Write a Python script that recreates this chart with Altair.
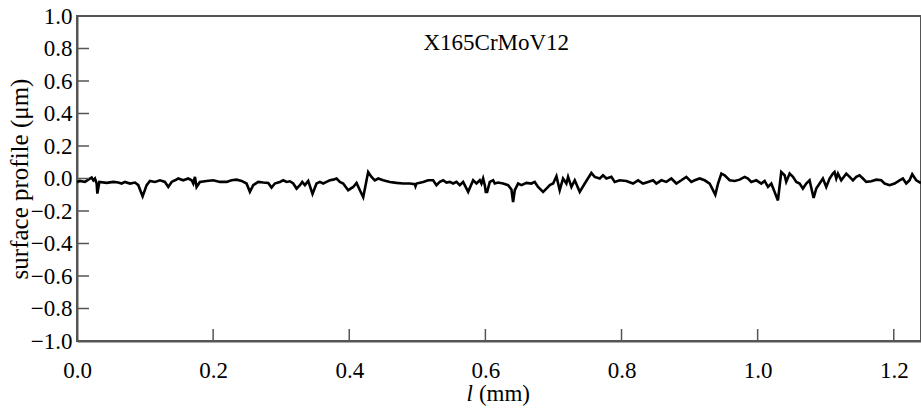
import altair as alt
import pandas as pd

# ---- data ----
l_mm = [
    0.0, 0.0044, 0.0117, 0.0166, 0.0215, 0.024, 0.0264, 0.0289, 0.0299, 0.0328,
    0.0436, 0.0534, 0.0607, 0.0656, 0.0705, 0.0778, 0.0852, 0.0901, 0.0964, 0.1023,
    0.1072, 0.1145, 0.1219, 0.1292, 0.1341, 0.139, 0.1439, 0.1488, 0.1561, 0.1635,
    0.1684, 0.1708, 0.1733, 0.1757, 0.1806, 0.1904, 0.2002, 0.21, 0.2198, 0.2271,
    0.2345, 0.2418, 0.2491, 0.254, 0.2589, 0.2663, 0.2736, 0.281, 0.2858, 0.2907,
    0.2932, 0.2981, 0.303, 0.3079, 0.3128, 0.3177, 0.3226, 0.3275, 0.3309, 0.3348,
    0.3397, 0.346, 0.3519, 0.3568, 0.3617, 0.3666, 0.3715, 0.3764, 0.3813, 0.3862,
    0.3911, 0.3984, 0.4058, 0.4107, 0.4156, 0.4205, 0.4254, 0.4278, 0.4327, 0.4376,
    0.4425, 0.4498, 0.4596, 0.4694, 0.4792, 0.489, 0.4963, 0.4973, 0.4988, 0.5086,
    0.5159, 0.5232, 0.5281, 0.533, 0.5379, 0.5428, 0.5477, 0.5526, 0.5575, 0.5624,
    0.5673, 0.5747, 0.582, 0.5869, 0.5918, 0.5942, 0.5967, 0.5991, 0.6006, 0.6026,
    0.6065, 0.6114, 0.6138, 0.6187, 0.6261, 0.6334, 0.6383, 0.6407, 0.6432, 0.6481,
    0.653, 0.6603, 0.6676, 0.6725, 0.6774, 0.6848, 0.6897, 0.6946, 0.6995, 0.7044,
    0.7092, 0.7141, 0.719, 0.7215, 0.7264, 0.7313, 0.7386, 0.746, 0.7557, 0.7606,
    0.768, 0.7729, 0.7778, 0.7851, 0.79, 0.7973, 0.8071, 0.8169, 0.8243, 0.8316,
    0.839, 0.8463, 0.8512, 0.8586, 0.8659, 0.8732, 0.8806, 0.8879, 0.8952, 0.9026,
    0.9075, 0.9148, 0.9222, 0.9295, 0.9344, 0.9378, 0.9418, 0.9467, 0.9515, 0.9589,
    0.9662, 0.9736, 0.9809, 0.9858, 0.9907, 0.998, 1.0054, 1.0103, 1.0152, 1.0201,
    1.0298, 1.0347, 1.0396, 1.042, 1.047, 1.0519, 1.0568, 1.0617, 1.0665, 1.0714,
    1.0763, 1.0822, 1.0861, 1.091, 1.0959, 1.1008, 1.1057, 1.1106, 1.113, 1.1155,
    1.118, 1.1228, 1.1302, 1.1351, 1.14, 1.1449, 1.1498, 1.1547, 1.1596, 1.1669,
    1.1743, 1.1816, 1.1865, 1.1938, 1.2012, 1.2085, 1.2134, 1.2183, 1.2232, 1.2271,
    1.233, 1.24,
]
profile_um = [
    -0.021, -0.015, -0.021, -0.007, 0.006, -0.011, 0.000, -0.031, -0.093, -0.021,
    -0.027, -0.021, -0.025, -0.031, -0.021, -0.031, -0.025, -0.041, -0.110, -0.041,
    -0.015, -0.021, -0.011, -0.021, -0.052, -0.021, -0.011, 0.000, -0.011, 0.000,
    -0.011, -0.031, 0.010, -0.052, -0.021, -0.015, -0.011, -0.021, -0.021, -0.011,
    -0.007, -0.015, -0.031, -0.082, -0.041, -0.021, -0.025, -0.027, -0.056, -0.031,
    -0.027, -0.021, -0.011, -0.021, -0.017, -0.031, -0.062, -0.041, -0.021, -0.041,
    -0.015, -0.095, -0.031, -0.021, -0.031, -0.021, -0.011, -0.007, 0.000, -0.021,
    -0.031, -0.072, -0.052, -0.027, -0.072, -0.115, -0.011, 0.040, 0.010, -0.011,
    0.000, -0.011, -0.021, -0.027, -0.031, -0.031, -0.035, -0.048, -0.031, -0.021,
    -0.011, -0.011, -0.041, -0.021, -0.011, -0.025, -0.021, -0.031, -0.021, -0.041,
    -0.021, -0.082, -0.011, -0.031, -0.011, -0.031, 0.000, -0.041, -0.082, -0.082,
    -0.021, -0.011, -0.031, -0.025, -0.031, -0.041, -0.068, -0.145, -0.072, -0.031,
    -0.041, -0.027, -0.031, -0.021, -0.052, -0.082, -0.062, -0.041, -0.031, 0.014,
    -0.072, 0.000, -0.031, 0.010, -0.052, -0.011, -0.082, -0.031, 0.034, 0.010,
    0.000, 0.020, 0.000, 0.010, -0.021, -0.011, -0.015, -0.031, -0.011, -0.031,
    -0.021, -0.011, -0.031, -0.011, -0.021, 0.000, -0.031, -0.011, 0.010, -0.021,
    -0.011, 0.000, -0.011, -0.031, -0.072, -0.100, -0.031, 0.030, 0.020, -0.011,
    -0.015, -0.007, 0.010, 0.000, -0.021, -0.011, -0.031, -0.015, -0.052, -0.031,
    -0.135, 0.040, 0.020, -0.021, 0.030, 0.010, -0.021, -0.031, -0.062, -0.031,
    -0.011, -0.120, -0.062, -0.031, 0.000, -0.052, 0.000, 0.030, 0.040, 0.000,
    0.030, -0.011, 0.030, 0.010, -0.011, 0.010, 0.020, 0.000, -0.021, -0.017,
    -0.007, -0.011, -0.031, -0.041, -0.031, -0.011, 0.000, -0.031, -0.011, 0.026,
    -0.011, -0.028,
]

x_label_values = [0.0, 0.2, 0.4, 0.6, 0.8, 1.0, 1.2]
y_label_values = [-1.0, -0.8, -0.6, -0.4, -0.2, 0.0, 0.2, 0.4, 0.6, 0.8, 1.0]
x_tick_values = [0.2, 0.4, 0.6, 0.8, 1.0, 1.2]
y_tick_values = [-0.8, -0.6, -0.4, -0.2, 0.0, 0.2, 0.4, 0.6, 0.8]

X_DOMAIN = [0.0, 1.24]
Y_DOMAIN = [-1.0, 1.0]

W, H = 844, 325
FONT = "Liberation Serif"
FS = 23
GRAY = "#555555"

# inward tick lengths (12 px) expressed in data units
X_TICK_LEN = 12 / H * (Y_DOMAIN[1] - Y_DOMAIN[0])
Y_TICK_LEN = 12 / W * (X_DOMAIN[1] - X_DOMAIN[0])

df = pd.DataFrame({"l": l_mm, "p": profile_um, "i": list(range(len(l_mm)))})

xs = alt.Scale(domain=X_DOMAIN, nice=False, zero=False)
ys = alt.Scale(domain=Y_DOMAIN, nice=False, zero=False)

x_axis = alt.Axis(
    values=x_label_values, format=".1f", title=None, ticks=False, tickSize=0,
    labelPadding=18, labelFlush=False, labelOverlap=False,
    labelFont=FONT, labelFontSize=FS, labelColor="black")
y_axis = alt.Axis(
    values=y_label_values, format=".1f", title="surface profile (μm)",
    ticks=False, tickSize=0, labelPadding=5, labelOverlap=False,
    labelFont=FONT, labelFontSize=FS, labelColor="black",
    titleFont=FONT, titleColor="black", titleFontWeight="normal",
    titleX=-58, titleY=H / 2, titleAngle=-90, titleBaseline="middle",
    titleAlign="center", titleFontSize=25, labelFlush=False)

line = alt.Chart(df).mark_line(color="black", strokeWidth=2.6, clip=True).encode(
    x=alt.X("l:Q", scale=xs, axis=x_axis),
    y=alt.Y("p:Q", scale=ys, axis=y_axis),
    order="i:Q",
)

xt = pd.DataFrame({"v": x_tick_values, "y0": [Y_DOMAIN[0]] * len(x_tick_values),
                   "y1": [Y_DOMAIN[0] + X_TICK_LEN] * len(x_tick_values)})
x_ticks = alt.Chart(xt).mark_rule(color=GRAY, strokeWidth=1.5).encode(
    x=alt.X("v:Q", scale=xs, axis=x_axis), y=alt.Y("y0:Q", scale=ys, axis=y_axis),
    y2="y1:Q")

yt = pd.DataFrame({"v": y_tick_values, "x0": [X_DOMAIN[0]] * len(y_tick_values),
                   "x1": [X_DOMAIN[0] + Y_TICK_LEN] * len(y_tick_values)})
y_ticks = alt.Chart(yt).mark_rule(color=GRAY, strokeWidth=1.5).encode(
    y=alt.Y("v:Q", scale=ys, axis=y_axis), x=alt.X("x0:Q", scale=xs, axis=x_axis),
    x2="x1:Q")

# annotations (data coordinates)
title_df = pd.DataFrame({"x": [0.616], "y": [0.792], "t": ["X165CrMoV12"]})
title_txt = alt.Chart(title_df).mark_text(
    font=FONT, fontSize=FS, color="black", align="center", baseline="alphabetic"
).encode(x=alt.X("x:Q", scale=xs, axis=x_axis), y=alt.Y("y:Q", scale=ys, axis=y_axis),
         text="t:N")

xl_df = pd.DataFrame({"x": [0.577], "y": [-1.327], "t": ["l"]})
xl_txt = alt.Chart(xl_df).mark_text(
    font=FONT, fontSize=FS, fontStyle="italic", color="black", align="center",
    baseline="middle", clip=False
).encode(x=alt.X("x:Q", scale=xs, axis=x_axis), y=alt.Y("y:Q", scale=ys, axis=y_axis),
         text="t:N")

xu_df = pd.DataFrame({"x": [0.628], "y": [-1.327], "t": ["(mm)"]})
xu_txt = alt.Chart(xu_df).mark_text(
    font=FONT, fontSize=FS, color="black", align="center", baseline="middle",
    clip=False
).encode(x=alt.X("x:Q", scale=xs, axis=x_axis), y=alt.Y("y:Q", scale=ys, axis=y_axis),
         text="t:N")

chart = alt.layer(line, x_ticks, y_ticks, title_txt, xl_txt, xu_txt).properties(
    width=W, height=H,
    autosize=alt.AutoSizeParams(type="none"),
    padding={"left": 77, "top": 16, "right": 0, "bottom": 68},
    background="white",
).configure_view(
    stroke=GRAY, strokeWidth=2
).configure_axis(
    domainColor=GRAY, domainWidth=2, grid=False, labelOverlap=False,
    labelFont=FONT, labelFontSize=FS, labelColor="black",
    titleFont=FONT, titleFontSize=FS, titleColor="black", titleFontWeight="normal",
)

chart.save("out.html", embed_options={"renderer": "svg", "actions": False})
